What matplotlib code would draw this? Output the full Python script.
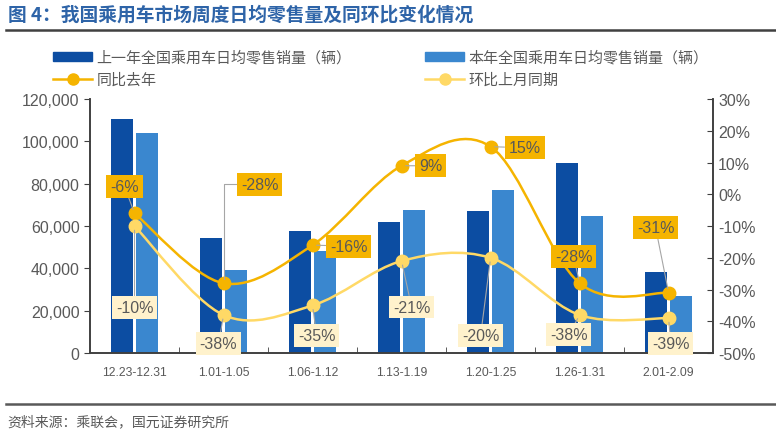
import numpy as np
import matplotlib.pyplot as plt
from matplotlib.path import Path
from matplotlib.patches import PathPatch, Patch
from matplotlib.lines import Line2D

plt.rcParams['font.family'] = ['Liberation Sans', 'Noto Sans CJK SC', 'DejaVu Sans']

weeks = ['12.23-12.31', '1.01-1.05', '1.06-1.12', '1.13-1.19', '1.20-1.25', '1.26-1.31', '2.01-2.09']
last_year = [110500, 54300, 57500, 61700, 66900, 89800, 38400]
this_year = [103800, 39200, 48300, 67700, 77000, 64900, 26800]
yoy = [-6, -28, -16, 9, 15, -28, -31]
mom = [-10, -38, -35, -21, -20, -38, -39]

# label offsets in pixels (dx, dy) from each point
yoy_off = [(-10, 27), (36, 99), (36, -1), (29, 0), (34, -1), (-6, 27), (-13, 65)]
mom_off = [(0, -81), (-5, -29), (4, -30), (10, -46), (-10, -78), (-11, -20), (2, -25)]

c_dark = '#0C4DA2'
c_light = '#3A87CF'
c_yoy = '#F5B400'
c_mom = '#FFD966'
c_text = '#595959'


def smooth_path(xs, ys):
    # Catmull-Rom through the points, drawn as cubic Bezier segments
    p = np.column_stack([xs, ys]).astype(float)
    ext = np.vstack([p[0], p, p[-1]])
    verts = [p[0]]
    codes = [Path.MOVETO]
    for i in range(len(p) - 1):
        p0, p1, p2, p3 = ext[i], ext[i + 1], ext[i + 2], ext[i + 3]
        verts += [p1 + (p2 - p0) / 6, p2 - (p3 - p1) / 6, p2]
        codes += [Path.CURVE4] * 3
    return Path(verts, codes)


fig = plt.figure(figsize=(7.76, 4.35), dpi=100)
ax = fig.add_axes([0.116, 0.186, 0.803, 0.584])
ax2 = ax.twinx()

x = np.arange(len(weeks))
w = 0.245
ax.bar(x - 0.14, last_year, w, color=c_dark, zorder=2)
ax.bar(x + 0.14, this_year, w, color=c_light, zorder=2)
ax.set_xlim(-0.5, len(weeks) - 0.5)
ax.set_ylim(0, 120000)
ax.set_yticks(np.arange(0, 120001, 20000))
ax.set_yticklabels([f'{v:,}' for v in range(0, 120001, 20000)])
ax.set_xticks(x)
ax.set_xticklabels(weeks, fontsize=8.7, color=c_text)
ax.set_xticks(np.arange(0.5, len(weeks) - 1, 1), minor=True)
ax.tick_params(axis='x', which='major', length=0, pad=9)
ax.tick_params(axis='x', which='minor', length=4, direction='in', color='#404040')
ax.tick_params(axis='y', labelsize=11.5, colors=c_text, length=4, direction='out')
ax.tick_params(axis='y', color='#404040')

ax2.set_ylim(-50, 30)
ax2.set_yticks(np.arange(-50, 31, 10))
ax2.set_yticklabels([f'{v}%' for v in range(-50, 31, 10)])
ax2.tick_params(axis='y', labelsize=11.5, colors=c_text, length=4, direction='in')
ax2.tick_params(axis='y', color='#404040')

for a in (ax, ax2):
    a.spines['top'].set_visible(False)
    for s in ('left', 'right', 'bottom'):
        a.spines[s].set_color('#404040')
        a.spines[s].set_linewidth(1.2)

ax2.add_patch(PathPatch(smooth_path(x, yoy), fill=False, edgecolor=c_yoy, lw=1.8, zorder=3))
ax2.add_patch(PathPatch(smooth_path(x, mom), fill=False, edgecolor=c_mom, lw=1.8, zorder=3))
ax2.plot(x, yoy, 'o', color=c_yoy, ms=9, zorder=5)
ax2.plot(x, mom, 'o', color=c_mom, ms=9, zorder=5)

for i in range(len(x)):
    cs = 'angle,angleA=180,angleB=90,rad=0' if i == 1 else 'arc3'
    ax2.annotate(f'{yoy[i]}%', (x[i], yoy[i]), xytext=yoy_off[i], textcoords='offset pixels',
                 ha='center', va='center', fontsize=11.5, color=c_text, zorder=6,
                 bbox=dict(boxstyle='square,pad=0.25', fc=c_yoy, ec='none'),
                 arrowprops=dict(arrowstyle='-', color='#A6A6A6', lw=0.8, connectionstyle=cs,
                                 shrinkA=0, shrinkB=3))
    ax2.annotate(f'{mom[i]}%', (x[i], mom[i]), xytext=mom_off[i], textcoords='offset pixels',
                 ha='center', va='center', fontsize=11.5, color=c_text, zorder=6,
                 bbox=dict(boxstyle='square,pad=0.25', fc='#FFF2CC', ec='none'),
                 arrowprops=dict(arrowstyle='-', color='#A6A6A6', lw=0.8,
                                 shrinkA=0, shrinkB=3))

handles = [Patch(color=c_dark), Line2D([], [], color=c_yoy, marker='o', ms=8, lw=1.8),
           Patch(color=c_light), Line2D([], [], color=c_mom, marker='o', ms=8, lw=1.8)]
labels = ['上一年全国乘用车日均零售销量（辆）', '同比去年', '本年全国乘用车日均零售销量（辆）', '环比上月同期']
fig.legend(handles, labels, ncol=2, loc='upper left', bbox_to_anchor=(53 / 776, 1 - 51 / 435),
           frameon=False, labelcolor=c_text, columnspacing=4.9, borderpad=0, borderaxespad=0,
           handlelength=2.6, handleheight=0.55, labelspacing=0.5, handletextpad=0.3,
           prop={'family': ['Noto Sans CJK SC'], 'size': 10.8})

fig.text(8 / 776, 1 - 15 / 435, '图 4：我国乘用车市场周度日均零售量及同环比变化情况', fontsize=13.5,
         fontweight='bold', color='#2E64A8', va='center', family=['Noto Sans CJK SC'])
fig.add_artist(Line2D([0.008, 1.0], [1 - 31 / 435] * 2, color='#404040', lw=1.8))
fig.add_artist(Line2D([0.008, 1.0], [1 - 405 / 435] * 2, color='#595959', lw=1.8))
fig.text(7 / 776, 1 - 422 / 435, '资料来源：乘联会，国元证券研究所', fontsize=10, color=c_text,
         va='center', family=['Noto Sans CJK SC'])

fig.savefig('out.png', dpi=100)
